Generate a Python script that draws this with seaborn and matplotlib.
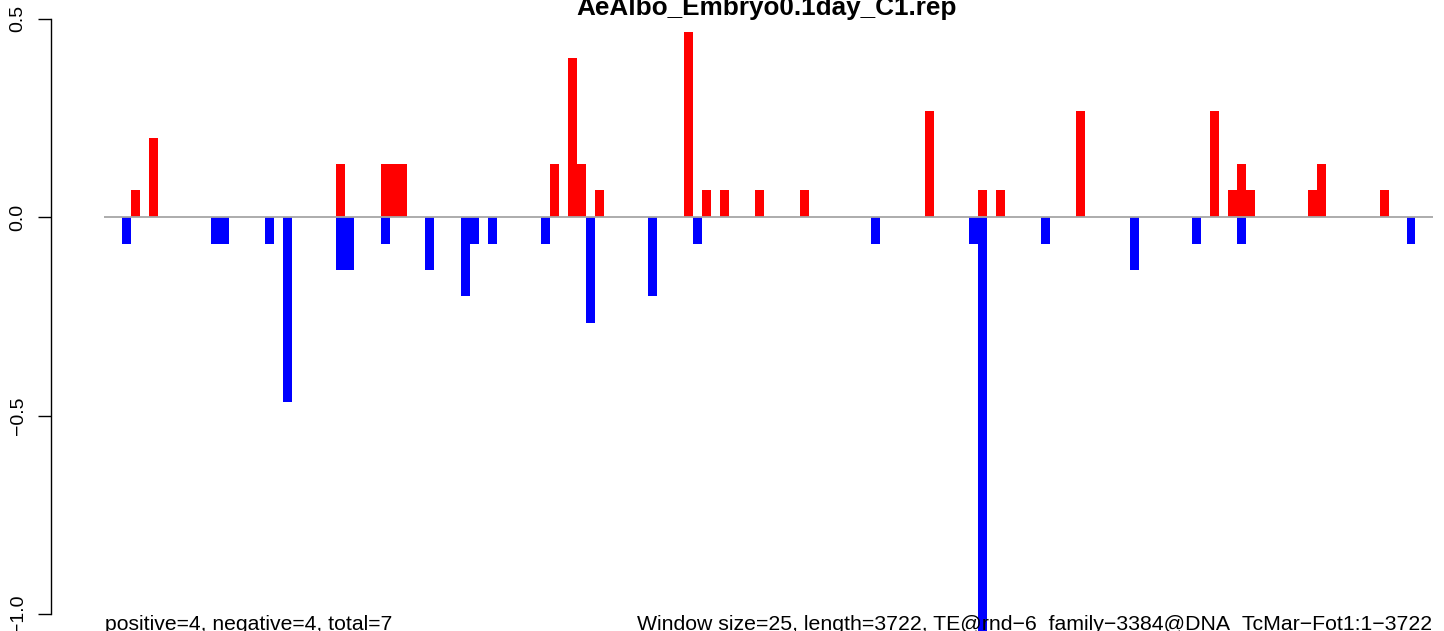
import numpy as np
import pandas as pd
import matplotlib
matplotlib.use("Agg")
import matplotlib.pyplot as plt
import seaborn as sns

# windows (25 bp each) along the 3722 bp element
n_windows = 149

pos_windows = [3, 5, 26, 31, 32, 33, 50, 52, 53, 55, 65, 67, 69, 73, 78,
               92, 98, 100, 109, 124, 126, 127, 128, 135, 136, 143]
pos_values = [0.067, 0.2, 0.133, 0.133, 0.133, 0.133, 0.133, 0.4, 0.133, 0.067,
              0.467, 0.067, 0.067, 0.067, 0.067, 0.267, 0.067, 0.067, 0.267,
              0.267, 0.067, 0.133, 0.067, 0.067, 0.133, 0.067]

neg_windows = [2, 12, 13, 18, 20, 26, 27, 31, 36, 40, 41, 43, 49, 54, 61, 66,
               86, 97, 98, 105, 115, 122, 127, 146]
neg_values = [-0.067, -0.067, -0.067, -0.067, -0.467, -0.133, -0.133, -0.067,
              -0.133, -0.2, -0.067, -0.067, -0.067, -0.267, -0.2, -0.067,
              -0.067, -0.067, -1.067, -0.067, -0.133, -0.067, -0.067, -0.067]

title = "AeAlbo_Embryo0.1day_C1.rep"
left_note = "positive=4, negative=4, total=7"
right_note = "Window size=25, length=3722, TE@rnd\u22126_family\u22123384@DNA_TcMar\u2212Fot1:1\u22123722"

y_ticks = [-1.0, -0.5, 0.0, 0.5]
y_labels = ["\u22121.0", "\u22120.5", "0.0", "0.5"]

idx = np.arange(n_windows)
pos = np.zeros(n_windows)
pos[pos_windows] = pos_values
neg = np.zeros(n_windows)
neg[neg_windows] = neg_values
df = pd.DataFrame({"window": idx, "pos": pos, "neg": neg})

sns.set_theme(style="white")
plt.rcParams["font.family"] = ["Liberation Sans", "DejaVu Sans"]
plt.rcParams["text.color"] = "black"
plt.rcParams["ytick.color"] = "black"
plt.rcParams["axes.edgecolor"] = "black"

W, H = 1444, 631
fig = plt.figure(figsize=(W / 100, H / 100), dpi=100)
ax = fig.add_axes([51 / W, 0, (W - 51) / W, 1])

sns.barplot(data=df, x="window", y="pos", color="red", saturation=1,
            native_scale=True, width=1, linewidth=0, errorbar=None, ax=ax)
sns.barplot(data=df, x="window", y="neg", color="blue", saturation=1,
            native_scale=True, width=1, linewidth=0, errorbar=None, ax=ax)
ax.hlines(0, idx[0] - 0.5, idx[-1] + 0.5, color="#a6a6a6", linewidth=1.3, zorder=5)

# pixel layout: window i centred at 108.66 + 8.92*i
step = 8.92
ax.set_xlim(-(108.66 - 51) / step, (W - 108.66) / step)
ppu = 397.0
ax.set_ylim(-(H - 217) / ppu, 217 / ppu)

ax.set_xticks([])
ax.set_xlabel("")
ax.set_ylabel("")
for s in ["top", "right", "bottom"]:
    ax.spines[s].set_visible(False)
ax.spines["left"].set_bounds(-1.0, 0.5)
ax.spines["left"].set_color("black")
ax.spines["left"].set_linewidth(1.0)
ax.set_yticks(y_ticks)
ax.set_yticklabels(y_labels, rotation=90, va="center", fontsize=14, color="black")
ax.tick_params(axis="y", left=True, length=9.5, width=1.0, pad=8, colors="black")

fig.text(767 / W, 1 - 15 / H, title, ha="center", va="baseline",
         fontsize=18.8, fontweight="bold", color="black")
fig.text(105 / W, 1.5 / H, left_note, ha="left", va="baseline",
         fontsize=15.2, color="black")
fig.text(1432 / W, 1.5 / H, right_note, ha="right", va="baseline",
         fontsize=15.35, color="black")

fig.savefig("out.png", dpi=100)
